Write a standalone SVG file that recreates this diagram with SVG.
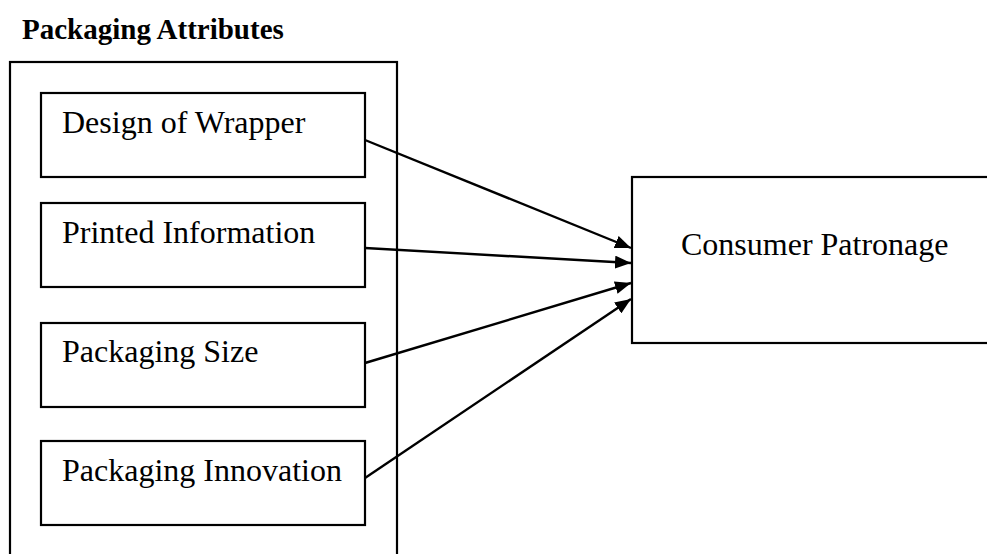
<svg xmlns="http://www.w3.org/2000/svg" width="987" height="554" viewBox="0 0 987 554">
<defs>
<style>
.box{fill:none;stroke:#000;stroke-width:2.2}
.txt{font-family:"Liberation Serif","Times New Roman",serif;font-size:32px;fill:#000}
.title{font-family:"Liberation Serif","Times New Roman",serif;font-size:29px;font-weight:bold;fill:#000}
.conn{fill:none;stroke:#000;stroke-width:2.4}
</style>
<marker id="arr" markerWidth="16" markerHeight="13" refX="16" refY="6.5" orient="auto" markerUnits="userSpaceOnUse">
<path d="M0,0 L16,6.5 L0,13 Z" fill="#000"/>
</marker>
</defs>
<rect width="987" height="554" fill="#fff"/>
<g id="packaging-attributes">
<text class="title" x="22" y="39">Packaging Attributes</text>
<rect class="box" x="10" y="62" width="387" height="510"/>
</g>
<g id="design-of-wrapper">
<rect class="box" x="41" y="93" width="324" height="84"/>
<text class="txt" x="62" y="133">Design of Wrapper</text>
</g>
<g id="printed-information">
<rect class="box" x="41" y="203" width="324" height="84"/>
<text class="txt" x="62" y="243">Printed Information</text>
</g>
<g id="packaging-size">
<rect class="box" x="41" y="323" width="324" height="84"/>
<text class="txt" x="62" y="362">Packaging Size</text>
</g>
<g id="packaging-innovation">
<rect class="box" x="41" y="441" width="324" height="84"/>
<text class="txt" x="62" y="481">Packaging Innovation</text>
</g>
<g id="consumer-patronage">
<rect class="box" x="632" y="177" width="370" height="166"/>
<text class="txt" x="681" y="255">Consumer Patronage</text>
</g>
<g id="connectors">
<line class="conn" x1="365" y1="140" x2="631" y2="248" marker-end="url(#arr)"/>
<line class="conn" x1="365" y1="248" x2="631" y2="263" marker-end="url(#arr)"/>
<line class="conn" x1="365" y1="363" x2="631" y2="283" marker-end="url(#arr)"/>
<line class="conn" x1="365" y1="478" x2="631" y2="299" marker-end="url(#arr)"/>
</g>
</svg>
